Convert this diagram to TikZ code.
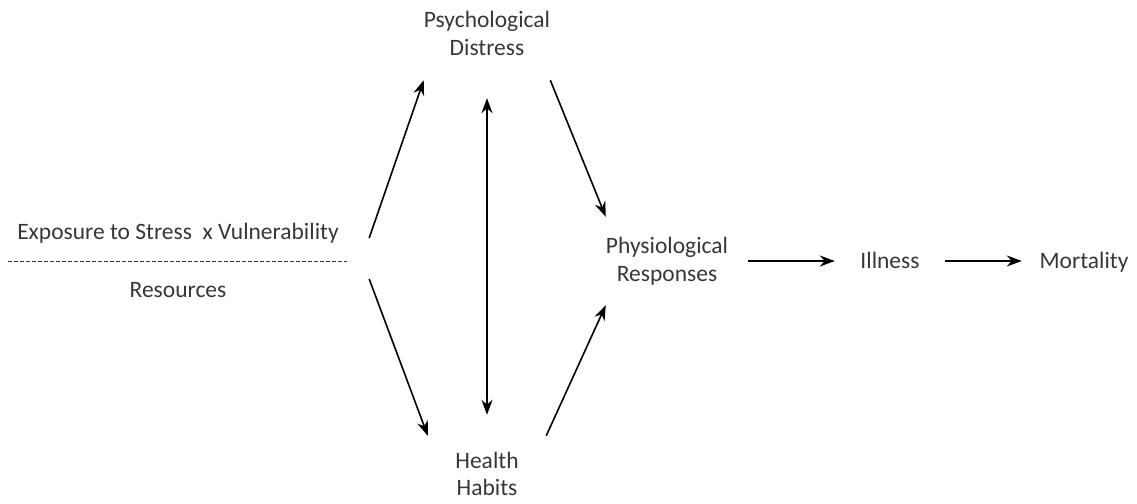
\documentclass[tikz,border=0pt]{standalone}
\usepackage{fontspec}
\setmainfont{Carlito}
\usetikzlibrary{arrows.meta}
\definecolor{texto}{RGB}{55,55,55}

\begin{document}
\begin{tikzpicture}[x=1pt,y=-1pt,
    caja/.style={text=texto, align=center, inner sep=0pt, font=\fontsize{23.5}{28}\selectfont},
    linea/.style={caja, text height=18pt, text depth=4pt},
    flecha/.style={-{Stealth[length=15pt,width=11pt]}, line width=1.6pt},
    doble/.style={{Stealth[length=15pt,width=11pt]}-{Stealth[length=15pt,width=11pt]}, line width=1.6pt}]
    % parámetros
    \def\ancho{1137}  % ancho total
    \def\alto{503}    % alto total
    \useasboundingbox (0,0) rectangle (\ancho,\alto);

    %—————— nodos ——————
    \node[linea, minimum width=382pt] (expo) at (178,232) {Exposure to Stress\ \ x Vulnerability};
    \node[linea, minimum width=382pt] (res)  at (178,290) {Resources};
    \node[caja, minimum width=118pt, minimum height=94pt] (dist) at (487,33)  {Psychological\\Distress};
    \node[caja, minimum width=118pt, minimum height=76pt,
          font=\fontsize{23.5}{27}\selectfont] (hab) at (487,474) {Health\\Habits};
    \node[caja, minimum width=122pt, minimum height=88pt] (phys) at (667,261) {Physiological\\Responses};
    \node[linea, minimum width=110pt] (ill)  at (890,261)  {Illness};
    \node[linea, minimum width=124pt] (mort) at (1084,261) {Mortality};

    % línea punteada entre exposición y recursos
    \draw[texto, line width=1pt, dash pattern=on 4pt off 2pt] (8,261) -- (347,261);

    %—————— flechas ——————
    \draw[flecha] ([yshift=-6pt]expo.east) -- (dist.south west);
    \draw[flecha] ([yshift=11pt]res.east)  -- (hab.north west);
    \draw[doble, shorten <=18pt, shorten >=21pt] (dist.south) -- (hab.north);
    \draw[flecha] (dist.south east) -- (phys.north west);
    \draw[flecha] (hab.north east)  -- (phys.south west);
    \draw[flecha, shorten <=20pt] (phys.east) -- (ill.west);
    \draw[flecha] (ill.east) -- (mort.west);
\end{tikzpicture}
\end{document}
